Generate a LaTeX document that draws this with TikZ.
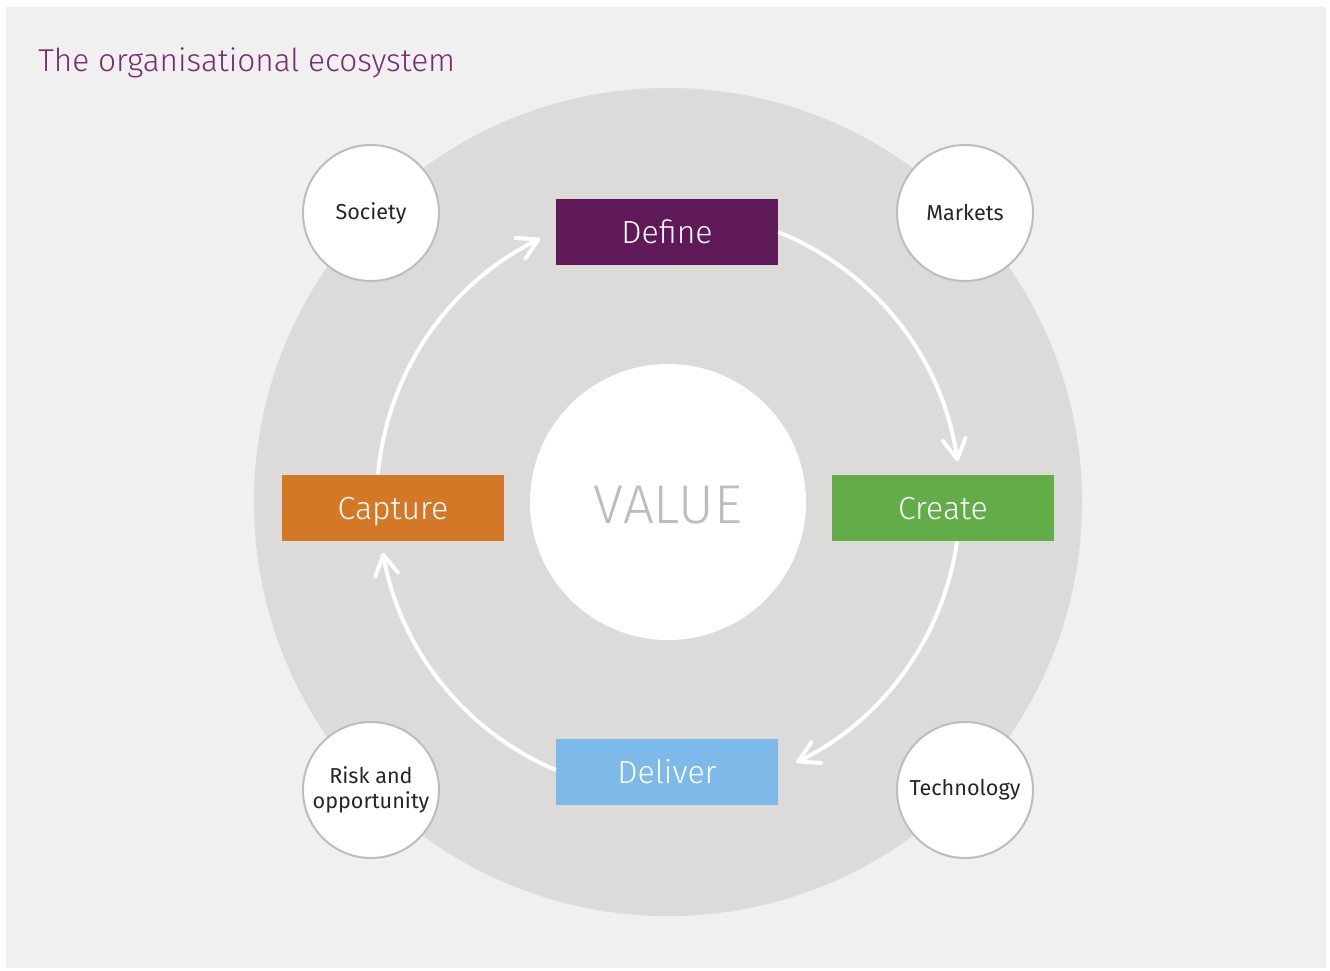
\documentclass[tikz,border=0pt]{standalone}
\usepackage{fontspec}
\setmainfont{Fira Sans}[UprightFont={* Light}]
\newfontfamily\regfont{Fira Sans}
\usetikzlibrary{arrows.meta}
\definecolor{bgc}{HTML}{F0F0F0}
\definecolor{ringc}{HTML}{DCDBDA}
\definecolor{titlec}{HTML}{7B2C6F}
\definecolor{definec}{HTML}{5F1858}
\definecolor{createc}{HTML}{62AD47}
\definecolor{capturec}{HTML}{D47828}
\definecolor{deliverc}{HTML}{7EBAE9}
\definecolor{edgec}{HTML}{BDBDBD}
\definecolor{valuec}{HTML}{BDBDBD}
\tikzset{
  stage/.style={rectangle, minimum width=166.5pt, minimum height=49.5pt, inner sep=0pt,
    text height=16.5pt, text depth=0pt,
    text=white, font=\fontsize{24}{28}\selectfont},
  factor/.style={circle, draw=edgec, line width=1.5pt, fill=white, minimum size=102pt,
    inner sep=0pt, align=center, font=\regfont\fontsize{16.2}{19}\selectfont, text=black!85},
  flow/.style={draw=white, line width=3pt, line cap=butt,
    -{Straight Barb[length=15pt, width=17pt, line width=3pt, round]}}
}
\begin{document}
\begin{tikzpicture}[x=0.75pt, y=-0.75pt]
\useasboundingbox (0,0) rectangle (1330,970);
\fill[white] (0,0) rectangle (1330,970);
\fill[bgc] (6,7) rectangle (1326,968);
\coordinate (c) at (668,502);
\fill[ringc] (c) circle[radius=414];
\node[anchor=base west, text=titlec, inner sep=0pt, font=\fontsize{23.7}{28}\selectfont] (title) at (38,72) {The organisational ecosystem};
\node[circle, fill=white, minimum size=207pt, inner sep=0pt, text=valuec,
  text height=32pt, text depth=0pt, font=\fontsize{41}{48}\selectfont] (value) at (c) {VALUE};
\node[stage, fill=definec] (define) at (667,232) {Define};
\node[stage, fill=createc] (create) at (943,508) {Create};
\node[stage, fill=capturec] (capture) at (393,508) {Capture};
\node[stage, fill=deliverc] (deliver) at (667,772) {Deliver};
\node[factor] (society) at (371,213) {Society};
\node[factor] (markets) at (965,213) {Markets};
\node[factor] (risk) at (371,790) {Risk and\\opportunity};
\node[factor] (tech) at (965,790) {Technology};
% flows around the value circle
\draw[flow] (define.east) arc[start angle=-68, end angle=-8, radius=291] coordinate (e1);
\draw[flow] (create.south) ++(14,0) arc[start angle=8, end angle=64, radius=291] coordinate (e2);
\draw[flow] (deliver.west) ++(0,-2) arc[start angle=113, end angle=170, radius=291] coordinate (e3);
\draw[flow] (capture.north) ++(-15,0) arc[start angle=185, end angle=244, radius=291] coordinate (e4);
\end{tikzpicture}
\end{document}
